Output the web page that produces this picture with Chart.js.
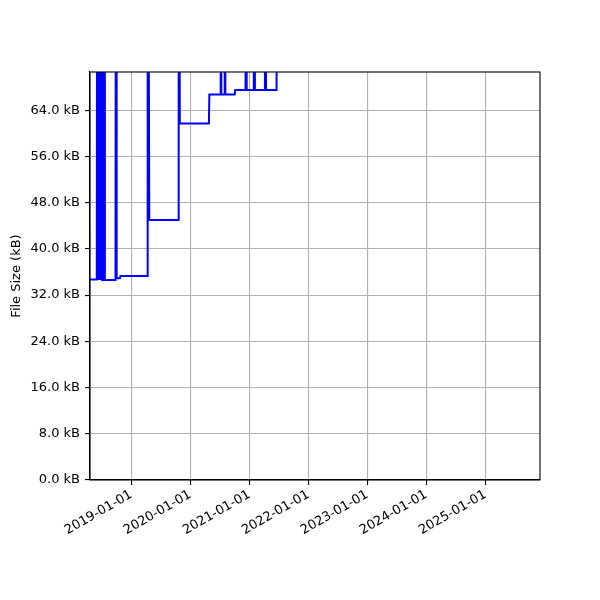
<!DOCTYPE html>
<html>
<head>
<meta charset="utf-8">
<script src="https://cdn.jsdelivr.net/npm/chart.js@4/dist/chart.umd.min.js"></script>
<style>
  html, body { margin: 0; padding: 0; background: #fff; }
  canvas { display: block; }
</style>
</head>
<body>
<canvas id="myChart" width="600" height="600"></canvas>
<script>
// commit dates and file sizes (kB)
// spikes go above the visible range, their real height is unknown
const commitDates = [
  '2018-04-20',
  '2018-06-01', '2018-06-04', '2018-06-07', '2018-06-10', '2018-06-13', '2018-06-16',
  '2018-06-19', '2018-06-23', '2018-06-27', '2018-07-01', '2018-07-05', '2018-07-09',
  '2018-07-13', '2018-07-17', '2018-07-21',
  '2018-09-25', '2018-09-28', '2018-10-02', '2018-10-22', '2018-10-26',
  '2019-04-09', '2019-04-12', '2019-04-22',
  '2019-10-18', '2019-10-21', '2019-10-28',
  '2020-04-25', '2020-04-28',
  '2020-07-04', '2020-07-07', '2020-07-11',
  '2020-07-29', '2020-08-01', '2020-08-05',
  '2020-10-02', '2020-10-05',
  '2020-12-08', '2020-12-11', '2020-12-15',
  '2021-01-28', '2021-01-31', '2021-02-04',
  '2021-04-07', '2021-04-10', '2021-04-14',
  '2021-06-18', '2021-06-24'
];
const fileSizes = [
  34.7,
  34.7, 140, 34.6, 140, 34.6, 140,
  34.6, 140, 34.6, 140, 34.6, 140,
  34.6, 140, 34.6,
  34.6, 140, 34.9, 34.9, 35.3,
  35.3, 140, 45.0,
  45.0, 140, 61.7,
  61.7, 66.7,
  66.7, 140, 66.7,
  66.7, 140, 66.7,
  66.7, 67.5,
  67.5, 140, 67.5,
  67.5, 140, 67.5,
  67.5, 140, 67.5,
  67.5, 140
];
const xTickLabels = ['2019-01-01', '2020-01-01', '2021-01-01', '2022-01-01',
                     '2023-01-01', '2024-01-01', '2025-01-01'];
const yTickValues = [0, 8, 16, 24, 32, 40, 48, 56, 64];

const xStart = Date.parse('2018-04-20');
const xEnd = Date.parse('2025-12-05');
const yTop = 70.6;

const points = commitDates.map((d, i) => ({ x: Date.parse(d), y: fileSizes[i] }));

Chart.defaults.font.family = 'DejaVu Sans';
Chart.defaults.font.size = 13;
Chart.defaults.color = '#000';

// matplotlib-like frame on all four sides
const frame = {
  id: 'frame',
  afterDraw(chart) {
    const { ctx, chartArea: a } = chart;
    ctx.save();
    ctx.strokeStyle = '#000';
    ctx.lineWidth = 1.1;
    ctx.strokeRect(a.left, a.top, a.right - a.left, a.bottom - a.top);
    ctx.restore();
  }
};

new Chart(document.getElementById('myChart').getContext('2d'), {
  type: 'line',
  data: {
    datasets: [{
      data: points,
      borderColor: '#0000ff',
      borderWidth: 2,
      pointRadius: 0,
      tension: 0,
      fill: false,
      clip: 0
    }]
  },
  options: {
    responsive: false,
    animation: false,
    layout: { padding: { top: 72, right: 60, left: 0, bottom: 0 } },
    plugins: { legend: { display: false }, tooltip: { enabled: false } },
    scales: {
      x: {
        type: 'linear',
        min: xStart,
        max: xEnd,
        afterBuildTicks: (scale) => {
          scale.ticks = xTickLabels.map(l => ({ value: Date.parse(l) }));
        },
        afterFit: (scale) => { scale.height = 120; },
        ticks: {
          autoSkip: false,
          minRotation: 30,
          maxRotation: 30,
          padding: 2,
          callback: (v) => new Date(v).toISOString().slice(0, 10)
        },
        grid: { color: '#b0b0b0', lineWidth: 1.1, tickLength: 5, tickColor: '#000', tickWidth: 1.1 },
        border: { color: '#000', width: 1.1 }
      },
      y: {
        min: 0,
        max: yTop,
        afterBuildTicks: (scale) => {
          scale.ticks = yTickValues.map(v => ({ value: v }));
        },
        afterFit: (scale) => { scale.width = 90; },
        ticks: {
          padding: 5,
          callback: (v) => v.toFixed(1) + ' kB'
        },
        title: { display: true, text: 'File Size (kB)', padding: { top: 9, bottom: 0 } },
        grid: { color: '#b0b0b0', lineWidth: 1.1, tickLength: 5, tickColor: '#000', tickWidth: 1.1 },
        border: { color: '#000', width: 1.1 }
      }
    }
  },
  plugins: [frame]
});
</script>
</body>
</html>
